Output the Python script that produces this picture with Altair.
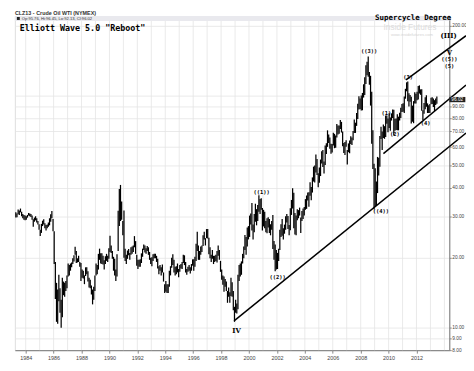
import altair as alt
import pandas as pd

# ---------------- data ----------------
START_YEAR, START_MONTH = 1983, 4

# monthly lows of the continuous crude-oil contract, one row per year
LOW = [
    29.8, 29.9, 30.8, 30.6, 31.4, 30.2, 29.6, 29.2, 29.0,                  # 1983 Apr-Dec
    29.2, 29.8, 30.4, 30.2, 30.0, 29.2, 27.2, 28.6, 29.0, 28.4, 27.8, 26.4,  # 1984
    24.8, 25.6, 27.4, 27.8, 26.8, 26.2, 26.8, 27.2, 27.6, 28.6, 29.6, 26.0,  # 1985
    18.8, 13.3, 10.6, 10.4, 13.0, 11.6, 10.0, 11.1, 13.8, 13.6, 14.4, 14.8,  # 1986
    16.6, 16.8, 17.6, 18.2, 18.8, 19.3, 20.6, 19.0, 19.1, 19.2, 18.3, 15.9,  # 1987
    16.4, 16.3, 15.4, 16.7, 17.0, 15.8, 14.9, 14.8, 13.9, 12.6, 13.2, 14.4,  # 1988
    16.8, 17.0, 17.8, 19.6, 18.9, 18.8, 18.7, 17.8, 18.8, 19.4, 19.2, 19.8,  # 1989
    21.2, 21.0, 19.8, 17.6, 16.8, 15.9, 16.6, 21.4, 27.4, 28.8, 29.2, 25.0,  # 1990
    20.0, 19.4, 18.8, 19.8, 20.5, 19.6, 20.6, 20.8, 21.2, 22.2, 20.8, 18.5,  # 1991
    17.9, 18.3, 18.3, 19.0, 20.2, 21.6, 21.1, 20.8, 21.4, 20.6, 19.6, 18.8,  # 1992
    18.4, 19.4, 19.9, 19.9, 19.2, 18.0, 17.0, 17.6, 16.8, 17.3, 15.8, 14.1,  # 1993
    14.3, 14.1, 14.1, 15.0, 16.8, 18.1, 18.6, 17.3, 16.8, 17.0, 17.3, 16.5,  # 1994
    17.4, 18.0, 17.9, 19.0, 18.6, 17.3, 16.9, 17.4, 17.6, 17.1, 17.6, 18.5,  # 1995
    17.6, 18.3, 19.4, 21.4, 19.6, 19.6, 20.6, 21.2, 22.5, 24.0, 22.6, 24.3,  # 1996
    24.2, 20.7, 19.9, 19.2, 19.8, 18.8, 19.2, 19.4, 19.1, 20.4, 19.6, 17.4,  # 1997
    16.1, 15.3, 14.3, 15.0, 14.4, 12.8, 13.6, 12.8, 13.7, 13.6, 11.9, 10.6,  # 1998
    11.6, 11.5, 12.0, 15.9, 16.6, 16.9, 18.9, 19.9, 21.6, 20.6, 22.4, 24.0,  # 1999
    24.6, 27.8, 26.2, 24.0, 25.8, 28.6, 27.6, 28.8, 31.6, 30.9, 32.2, 26.2,  # 2000
    27.3, 26.8, 25.8, 25.5, 27.0, 25.6, 25.0, 26.4, 21.8, 19.6, 17.5, 17.8,  # 2001
    17.9, 19.4, 21.6, 24.6, 24.9, 24.0, 25.4, 26.4, 28.4, 26.6, 25.0, 26.3,  # 2002
    30.6, 32.6, 26.8, 25.2, 25.0, 29.0, 29.6, 30.4, 25.6, 28.8, 29.4, 30.4,  # 2003
    32.2, 32.5, 35.3, 33.2, 37.0, 35.4, 38.2, 42.6, 42.2, 46.6, 45.5, 40.3,  # 2004
    42.1, 45.0, 51.0, 49.2, 46.2, 50.2, 56.0, 60.1, 62.4, 59.0, 56.2, 56.8,  # 2005
    60.9, 59.3, 59.6, 66.0, 68.0, 68.4, 71.8, 69.3, 60.4, 56.6, 55.4, 60.2,  # 2006
    50.5, 57.0, 56.4, 61.9, 61.2, 64.2, 69.0, 69.0, 74.0, 79.2, 87.0, 87.4,  # 2007
    86.1, 86.4, 98.0, 100.6, 112.0, 122.3, 120.4, 111.3, 90.5, 62.0, 48.2, 32.4,  # 2008
    33.2, 33.6, 38.0, 45.2, 49.3, 64.9, 58.3, 65.6, 65.1, 66.2, 75.6, 69.5,  # 2009
    72.4, 70.5, 78.0, 80.0, 67.5, 70.5, 71.0, 70.8, 70.8, 78.0, 80.0, 85.0,  # 2010
    85.1, 84.1, 96.9, 104.3, 94.6, 89.6, 94.0, 75.7, 77.1, 76.0, 92.4, 92.5,  # 2011
    95.4, 96.1, 102.0, 100.7, 86.0, 78.5, 83.4, 87.2, 89.4, 84.1, 84.1, 84.1,  # 2012
    91.8, 92.0, 89.3, 85.6, 91.0, 92.1,                                    # 2013 Jan-Jun
]

# monthly highs, same months
HIGH = [
    31.4, 31.0, 32.3, 32.0, 32.6, 31.6, 30.9, 30.6, 30.4,                  # 1983 Apr-Dec
    30.2, 30.6, 31.2, 31.0, 30.9, 30.4, 29.3, 29.8, 30.2, 29.6, 28.8, 27.9,  # 1984
    26.4, 28.0, 28.9, 29.3, 28.2, 27.7, 27.8, 28.4, 29.6, 30.8, 31.8, 29.4,  # 1985
    26.0, 19.2, 15.6, 14.6, 16.9, 14.8, 13.2, 16.4, 15.8, 15.6, 15.9, 16.8,  # 1986
    18.9, 18.6, 18.9, 19.1, 19.9, 20.5, 22.3, 21.4, 19.9, 20.4, 19.2, 19.0,  # 1987
    17.8, 17.6, 16.8, 18.2, 18.2, 17.5, 16.4, 16.1, 15.2, 14.6, 15.0, 16.8,  # 1988
    18.9, 18.6, 20.8, 21.9, 20.9, 20.9, 20.4, 19.5, 20.3, 20.8, 20.4, 22.0,  # 1989
    24.9, 22.6, 21.4, 20.2, 19.8, 17.8, 20.7, 31.9, 39.6, 41.2, 35.0, 28.8,  # 1990
    32.0, 21.9, 20.6, 21.5, 21.8, 21.0, 22.2, 22.4, 22.6, 24.8, 23.6, 20.6,  # 1991
    19.6, 19.6, 19.7, 20.9, 21.9, 22.8, 22.6, 22.0, 22.5, 22.2, 21.2, 20.0,  # 1992
    20.1, 20.7, 20.8, 20.8, 20.4, 19.8, 18.4, 18.6, 18.2, 18.7, 17.3, 15.4,  # 1993
    15.9, 15.4, 15.4, 17.6, 18.4, 20.0, 20.7, 19.6, 18.3, 18.4, 18.9, 17.9,  # 1994
    18.6, 18.8, 19.2, 20.6, 20.5, 19.2, 17.9, 18.3, 18.6, 18.2, 18.8, 19.7,  # 1995
    19.7, 20.2, 23.0, 25.9, 22.6, 21.4, 22.4, 22.6, 25.0, 25.9, 24.3, 26.6,  # 1996
    26.6, 24.4, 22.2, 20.6, 21.6, 20.4, 20.4, 20.6, 21.4, 22.6, 21.6, 19.4,  # 1997
    17.8, 16.8, 16.6, 16.2, 15.8, 14.4, 14.9, 14.2, 16.4, 15.7, 14.4, 12.3,  # 1998
    13.2, 12.7, 16.9, 18.6, 18.9, 19.3, 20.8, 22.4, 25.1, 24.6, 27.0, 27.4,  # 1999
    30.4, 31.0, 34.4, 27.8, 30.9, 34.2, 32.4, 33.8, 37.2, 35.8, 36.1, 32.8,  # 2000
    32.2, 31.6, 28.8, 29.6, 29.9, 29.4, 27.9, 28.8, 30.6, 23.6, 22.8, 21.6,  # 2001
    21.0, 21.9, 26.4, 27.9, 29.4, 26.8, 27.8, 30.2, 30.9, 30.3, 27.7, 32.7,  # 2002
    35.5, 39.9, 38.1, 31.2, 30.4, 32.4, 32.1, 32.9, 29.8, 31.8, 32.6, 33.1,  # 2003
    35.8, 37.1, 38.2, 38.3, 42.3, 40.4, 44.4, 49.4, 49.9, 55.7, 53.3, 46.3,  # 2004
    49.0, 53.0, 57.6, 58.3, 52.0, 60.9, 62.3, 70.8, 68.0, 66.0, 62.0, 61.9,  # 2005
    69.2, 68.4, 67.3, 75.4, 74.3, 74.2, 78.4, 77.0, 70.0, 62.4, 63.0, 64.2,  # 2006
    58.3, 62.2, 64.0, 66.8, 66.0, 70.4, 78.8, 76.4, 84.1, 92.2, 99.3, 97.0,  # 2007
    100.1, 102.6, 111.8, 119.9, 135.1, 139.9, 147.3, 126.3, 121.6, 103.9, 70.8, 50.8,  # 2008
    48.6, 42.6, 54.4, 54.0, 66.9, 73.4, 70.0, 75.0, 73.8, 82.0, 82.0, 79.6,  # 2009
    83.9, 80.5, 83.8, 87.1, 86.9, 79.4, 79.7, 83.0, 81.1, 84.4, 88.6, 92.0,  # 2010
    92.6, 99.0, 106.9, 114.0, 114.8, 102.4, 100.6, 98.9, 90.5, 94.6, 103.4, 101.8,  # 2011
    103.7, 109.8, 110.6, 106.3, 106.4, 86.5, 92.9, 98.3, 100.4, 92.5, 90.7, 92.0,  # 2012
    97.7, 98.2, 97.0, 95.5, 97.0, 99.0,                                    # 2013 Jan-Jun
]

YEAR_GRID = list(range(1984, 2015))
YEAR_LABELS = list(range(1984, 2013, 2))
PRICE_TICKS = [8, 9, 10, 20, 30, 40, 50, 60, 70, 80, 90, 100, 200]
LAST_PRICE = 96.02

# Elliott wave labels (year, price)
WAVE_TEXT = ["((1))", "((2))", "((3))", "((4))", "(1)", "(2)", "(3)", "(4)", "((5))", "(5)"]
WAVE_YEAR = [2000.9, 2002.05, 2008.6, 2009.45, 2009.85, 2010.45, 2011.4, 2012.65, 2014.35, 2014.35]
WAVE_PRICE = [38.5, 16.6, 156, 31.9, 84.0, 68.3, 120, 76.0, 143, 134]

ROMAN_TEXT = ["IV", "(III)", "V"]
ROMAN_YEAR = [1999.1, 2014.3, 2014.35]
ROMAN_PRICE = [9.65, 181, 153]

# channel lines: two anchor points each (year, price)
LINE_ID = ["a", "a", "b", "b", "c", "c"]
LINE_YEAR = [1998.93, 2015.55, 2009.63, 2015.55, 2011.25, 2015.55]
LINE_PRICE = [10.7, 68.9, 56.2, 111.0, 116.8, 181.0]

# ---------------- build ----------------
t, lo, hi = [], [], []
for i, (l, h) in enumerate(zip(LOW, HIGH)):
    k = START_MONTH - 1 + i
    t.append(START_YEAR + k // 12 + ((k % 12) + 0.5) / 12)
    lo.append(l)
    hi.append(h)
bars = pd.DataFrame({"t": t, "low": lo, "high": hi})

W, H = 442, 340
xs = alt.Scale(domain=[1983.225, 2014.35], nice=False, zero=False)
ys = alt.Scale(type="log", domain=[8, 220], nice=False)

x_axis = alt.Axis(values=YEAR_LABELS, format="d", grid=False, labelOverlap=False,
                  labelFontSize=5.5, labelColor="#444", labelFont="Liberation Sans",
                  tickSize=3, tickColor="#888", domainColor="#777",
                  title=None, labelPadding=2)
y_axis = alt.Axis(orient="right", values=PRICE_TICKS, format=".2f",
                  labelExpr="datum.value == 100 ? '' : datum.label",
                  labelOverlap=False,
                  labelFontSize=4.9, labelColor="#444", labelFont="Liberation Sans",
                  tickSize=2, tickColor="#888", domainColor="#777",
                  gridColor="#e4e4e4", gridWidth=0.8, title=None, labelPadding=0.5)


def X(field):
    return alt.X(field, scale=xs, axis=x_axis)


def Y(field):
    return alt.Y(field, scale=ys, axis=y_axis)


grid_layer = alt.Chart(pd.DataFrame({"yr": YEAR_GRID})).mark_rule(
    color="#e4e4e4", strokeWidth=0.8).encode(x=X("yr:Q"))

bar_layer = alt.Chart(bars).mark_rule(color="black", strokeWidth=1.25).encode(
    x=X("t:Q"), y=Y("low:Q"), y2="high:Q")

lines = pd.DataFrame({"id": LINE_ID, "t": LINE_YEAR, "p": LINE_PRICE})
line_layer = alt.Chart(lines).mark_line(color="black", strokeWidth=1.5, clip=False).encode(
    x=X("t:Q"), y=Y("p:Q"), detail="id:N")

waves = pd.DataFrame({"txt": WAVE_TEXT, "t": WAVE_YEAR, "p": WAVE_PRICE})
wave_layer = alt.Chart(waves).mark_text(font="DejaVu Sans Mono", fontWeight="bold",
                                        fontSize=5.5, color="black", clip=False).encode(
    x=X("t:Q"), y=Y("p:Q"), text="txt:N")

roman = pd.DataFrame({"txt": ROMAN_TEXT, "t": ROMAN_YEAR, "p": ROMAN_PRICE})
roman_layer = alt.Chart(roman).mark_text(font="DejaVu Serif", fontWeight="bold",
                                         fontSize=7, color="black", clip=False).encode(
    x=X("t:Q"), y=Y("p:Q"), text="txt:N")

# last-price marker on the right axis
box = pd.DataFrame({"t0": [2014.35], "t1": [2015.5], "p0": [93.6], "p1": [98.6],
                    "p": [LAST_PRICE], "txt": [f"{LAST_PRICE:.2f}"], "tm": [2014.92]})
box_layer = alt.Chart(box).mark_rect(color="#222", clip=False).encode(
    x=X("t0:Q"), x2="t1:Q", y=Y("p0:Q"), y2="p1:Q")
box_text = alt.Chart(box).mark_text(color="white", fontSize=4.8, font="Liberation Sans",
                                    clip=False).encode(
    x=X("tm:Q"), y=Y("p:Q"), text="txt:N")

# header / annotation texts
def label(txt, x, y, **kw):
    return alt.Chart(pd.DataFrame({"txt": [txt]})).mark_text(clip=False, **kw).encode(
        x=alt.value(x), y=alt.value(y), text="txt:N")

strip = alt.Chart(pd.DataFrame({"a": [0]})).mark_rect(color="#e9e9ee").encode(
    x=alt.value(0), x2=alt.value(W), y=alt.value(0), y2=alt.value(5))
square = alt.Chart(pd.DataFrame({"a": [0]})).mark_rect(color="#222").encode(
    x=alt.value(2), x2=alt.value(5), y=alt.value(1), y2=alt.value(4))

texts = [
    label("CLZ13 - Crude Oil WTI (NYMEX)", 0, -3, fontSize=5.5, align="left",
          baseline="middle", font="Liberation Sans", fontWeight="bold", color="#333"),
    label("Op:95.76, Hi:96.45, Lo:92.13, Cl:96.02", 7, 2.6, fontSize=4.2, align="left",
          baseline="middle", font="Liberation Sans", color="#333"),
    label('Elliott Wave 5.0 "Reboot"', 5, 12, fontSize=8.5, align="left",
          baseline="middle", font="DejaVu Sans Mono", fontWeight="bold", color="black"),
    label("Supercycle Degree", 444, 2.5, fontSize=7.6, align="right",
          baseline="middle", font="DejaVu Sans Mono", fontWeight="bold", color="black"),
    label("Inside Futures", 402, 11, fontSize=8.5, align="center",
          baseline="middle", font="Liberation Sans", color="#dddddd"),
    label("www.insidefutures.com", 404, 19, fontSize=4.2, align="center",
          baseline="middle", font="Liberation Sans", color="#d4d4d4"),
]

chart = alt.layer(
    grid_layer, strip, square, bar_layer, line_layer, wave_layer, roman_layer,
    box_layer, box_text, *texts,
).properties(
    width=W, height=H,
    padding={"left": 7, "top": 5, "right": 17, "bottom": 18},
    autosize=alt.AutoSizeParams(type="none"),
).configure_view(stroke="#999", strokeWidth=0.8).configure(background="white")

chart.save("out.html", embed_options={"renderer": "svg", "actions": False})
